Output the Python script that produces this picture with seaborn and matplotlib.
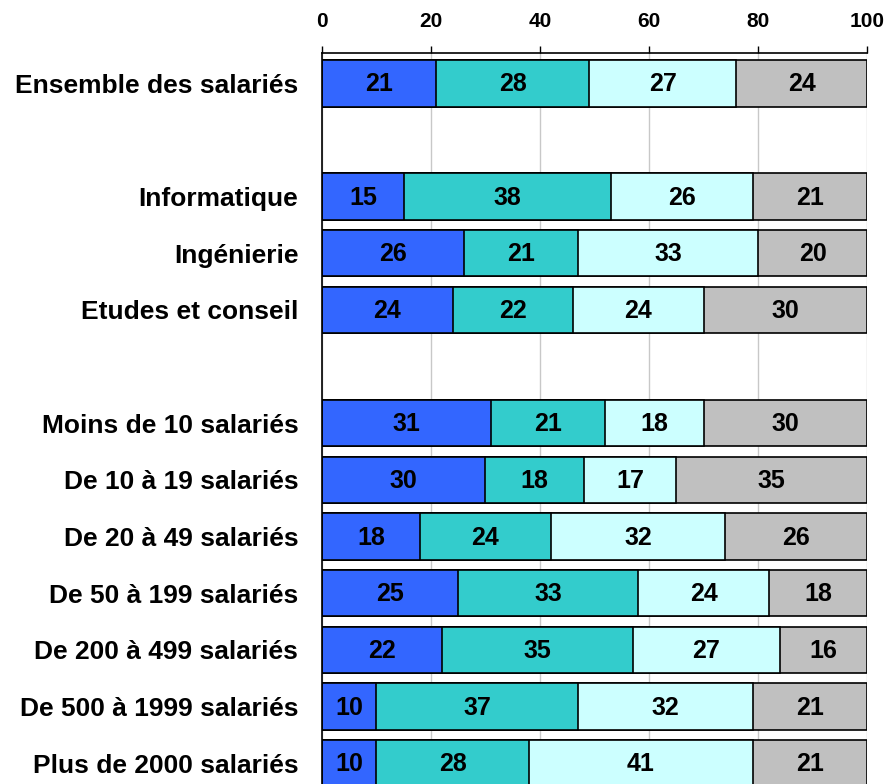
import matplotlib
matplotlib.use("Agg")
import matplotlib.pyplot as plt
import seaborn as sns
import pandas as pd

categories = [
    "Ensemble des salariés", "",
    "Informatique", "Ingénierie", "Etudes et conseil", " ",
    "Moins de 10 salariés", "De 10 à 19 salariés", "De 20 à 49 salariés",
    "De 50 à 199 salariés", "De 200 à 499 salariés", "De 500 à 1999 salariés",
    "Plus de 2000 salariés",
]
part1 = [21, None, 15, 26, 24, None, 31, 30, 18, 25, 22, 10, 10]
part2 = [28, None, 38, 21, 22, None, 21, 18, 24, 33, 35, 37, 28]
part3 = [27, None, 26, 33, 24, None, 18, 17, 32, 24, 27, 32, 41]
part4 = [24, None, 21, 20, 30, None, 30, 35, 26, 18, 16, 21, 21]
xticks = [0, 20, 40, 60, 80, 100]
colors = ["#3366FF", "#33CCCC", "#CCFFFF", "#C0C0C0"]

sns.set_style("white")
plt.rcParams["font.family"] = ["Liberation Sans", "DejaVu Sans"]
plt.rcParams["font.weight"] = "bold"
plt.rcParams["text.color"] = "black"
plt.rcParams["xtick.labelcolor"] = "black"
plt.rcParams["ytick.labelcolor"] = "black"

df = pd.DataFrame({"cat": categories, "p1": part1, "p2": part2, "p3": part3, "p4": part4})
df = df.dropna()
parts = ["p1", "p2", "p3", "p4"]
cum = df[parts].cumsum(axis=1)

fig = plt.figure(figsize=(8.87, 7.84), dpi=100)
ax = fig.add_axes([0.363, 0.0, 0.6145, 0.932])

ax.set_axisbelow(True)
ax.xaxis.grid(True, color="#C8C8C8", linewidth=1.0)

# stacked bars: draw cumulative totals from the outermost layer inward
for i in range(3, -1, -1):
    sns.barplot(x=cum[parts[i]].values, y=df["cat"].values, order=categories,
                orient="h", color=colors[i], edgecolor="black", linewidth=1.2,
                width=0.82, saturation=1, ax=ax)

# value labels centred in each segment
pos = {c: k for k, c in enumerate(categories)}
for _, row in df.iterrows():
    left = 0
    for p in parts:
        v = row[p]
        ax.text(left + v / 2, pos[row["cat"]] + 0.02, f"{int(v)}", ha="center", va="center",
                fontsize=18, fontweight="bold", color="black")
        left += v

ax.set_xlim(0, 100)
ax.set_ylim(12.37, -0.53)
ax.set_xticks(xticks)
ax.xaxis.tick_top()
ax.tick_params(axis="x", top=True, bottom=False, direction="out", length=5,
               width=1, color="black", labelsize=15, pad=11)
ax.tick_params(axis="y", left=False, length=0, labelsize=19, pad=17)
for lbl in ax.get_xticklabels() + ax.get_yticklabels():
    lbl.set_fontweight("bold")
    lbl.set_color("black")
ax.set_xlabel("")
ax.set_ylabel("")

for s in ["right", "bottom"]:
    ax.spines[s].set_visible(False)
for s in ["top", "left"]:
    ax.spines[s].set_color("black")
    ax.spines[s].set_linewidth(1.2)

fig.savefig("out.png", dpi=100)
